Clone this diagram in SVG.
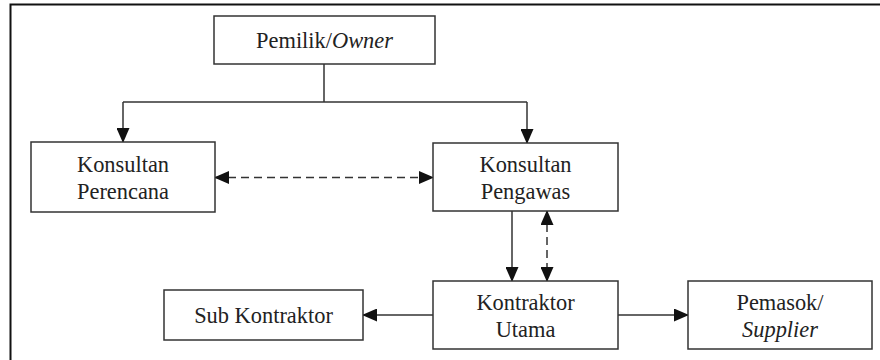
<svg xmlns="http://www.w3.org/2000/svg" width="880" height="360" viewBox="0 0 880 360">
<style>
.box{fill:#fff;stroke:#333;stroke-width:1.5}
.t{font-family:"Liberation Serif","Times New Roman",serif;font-size:22.4px;fill:#222;text-anchor:middle}
.i{font-style:italic}
.ln{fill:none;stroke:#333;stroke-width:1.5}
.d{stroke-dasharray:8,5}
</style>
<defs>
<marker id="ah" markerWidth="15" markerHeight="13" refX="14" refY="6.5" orient="auto-start-reverse" markerUnits="userSpaceOnUse">
<path d="M0,0 L15,6.5 L0,13 Z" fill="#111"/>
</marker>
</defs>
<rect x="0" y="0" width="880" height="360" fill="#fff"/>
<path d="M10.5,360 V4.5 H880" fill="none" stroke="#111" stroke-width="2"/>
<g id="connectors">
<path class="ln" d="M324,64 V102"/>
<path class="ln" d="M123,102 H527"/>
<path class="ln" d="M123,102 V142" marker-end="url(#ah)"/>
<path class="ln" d="M527,102 V143" marker-end="url(#ah)"/>
<path class="ln d" d="M215,177.5 H433" marker-start="url(#ah)" marker-end="url(#ah)"/>
<path class="ln" d="M512,211 V281" marker-end="url(#ah)"/>
<path class="ln d" d="M547,211 V281" marker-start="url(#ah)" marker-end="url(#ah)"/>
<path class="ln" d="M433,315 H363" marker-end="url(#ah)"/>
<path class="ln" d="M618,315 H688" marker-end="url(#ah)"/>
</g>
<g id="owner">
<rect class="box" x="214" y="16" width="221" height="48"/>
<text class="t" x="324.5" y="48">Pemilik/<tspan class="i">Owner</tspan></text>
</g>
<g id="perencana">
<rect class="box" x="31" y="142" width="184" height="70"/>
<text class="t" x="123" y="172">Konsultan</text>
<text class="t" x="123" y="199">Perencana</text>
</g>
<g id="pengawas">
<rect class="box" x="433" y="143" width="185" height="68"/>
<text class="t" x="525.5" y="172">Konsultan</text>
<text class="t" x="525.5" y="199">Pengawas</text>
</g>
<g id="kontraktor">
<rect class="box" x="433" y="281" width="185" height="68"/>
<text class="t" x="525.5" y="310">Kontraktor</text>
<text class="t" x="525.5" y="337">Utama</text>
</g>
<g id="sub">
<rect class="box" x="164" y="290" width="199" height="50"/>
<text class="t" x="263.5" y="323">Sub Kontraktor</text>
</g>
<g id="pemasok">
<rect class="box" x="688" y="281" width="184" height="68"/>
<text class="t" x="780" y="310">Pemasok/</text>
<text class="t i" x="780" y="337">Supplier</text>
</g>
</svg>
